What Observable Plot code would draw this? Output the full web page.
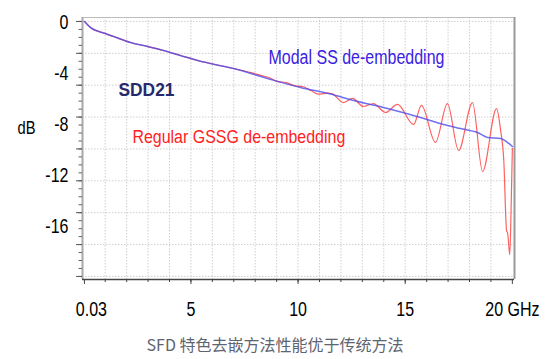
<!DOCTYPE html>
<html><head><meta charset="utf-8">
<script src="https://cdn.jsdelivr.net/npm/d3@7"></script>
<script src="https://cdn.jsdelivr.net/npm/@observablehq/plot@0.6"></script>
<style>
body{margin:0;background:#fff;width:550px;height:359px;overflow:hidden}
#cap{font-family:"Noto Sans CJK SC","Noto Sans",sans-serif;font-size:16px;color:#5e6470;text-align:center;line-height:22px;height:26px}
svg{display:block}
</style></head><body><div id="chart"></div><div id="cap"></div>
<script>
// Modal SS de-embedding (blue)
const blueFreq = [0.03,0.31,1.01,1.39,2.18,2.97,3.72,4.51,5.31,5.91,6.99,8.57,10.11,11.51,12.59,14.17,15.71,16.79,17.58,18.37,18.84,19.45,19.82,20.0];
const blueDb   = [0,-0.47,-0.95,-1.18,-1.65,-1.96,-2.28,-2.67,-3.06,-3.30,-3.69,-4.47,-5.18,-5.69,-6.20,-6.83,-7.53,-8.08,-8.40,-8.71,-9.10,-9.18,-9.55,-9.81];
// Regular GSSG de-embedding (red)
const redFreq = [0.03,0.31,1.01,1.39,2.18,2.97,3.72,4.51,5.31,5.91,6.99,7.8,8.3,8.65,9.0,9.45,9.85,10.2,10.6,10.95,11.4,11.6,12.12,12.54,13.05,13.52,14.08,14.64,15.39,15.76,16.41,16.97,17.49,18.14,18.61,19.26,19.45,19.6,19.73,19.78,19.88,19.95,20.0];
const redDb   = [0,-0.47,-0.95,-1.18,-1.65,-1.96,-2.28,-2.67,-3.06,-3.30,-3.69,-4.02,-4.25,-4.40,-4.70,-4.80,-5.05,-5.10,-5.42,-5.70,-5.62,-5.68,-6.36,-6.04,-6.67,-6.44,-7.14,-6.51,-8.08,-6.59,-9.49,-6.44,-10.12,-6.36,-11.77,-6.83,-8.5,-10.9,-16.4,-16.6,-18.3,-14.0,-9.96];

const yTickLabels = [0,-4,-8,-12,-16];
const yGridTicks = [0,-2.5,-5,-7.5,-10,-12.5,-15,-17.5,-20];
const xTickLabels = [0.03,5,10,15,20];
const xGridTicks = [1,2,3,4,5,6,7,8,9,10,11,12,13,14,15,16,17,18,19];
const labelModal = "Modal SS de-embedding";
const labelRegular = "Regular GSSG de-embedding";
const labelSdd = "SDD21";
const yUnit = "dB";
const caption = "SFD 特色去嵌方法性能优于传统方法";

const blue = blueFreq.map((f,i)=>({f, db: blueDb[i]}));
const red = redFreq.map((f,i)=>({f, db: redDb[i]}));
const yMinor = d3.range(0, -20.01, -0.625);

const xMin = -0.06, xMax = 20.1, yMin = -20.24, yMax = 0.31;

const svg = Plot.plot({
  width: 550, height: 333,
  marginLeft: 82, marginRight: 36, marginTop: 17, marginBottom: 54,
  style: {fontFamily: "Liberation Sans, Arial, sans-serif", fontSize: "20px", background: "white", overflow: "visible", color: "#000"},
  x: {domain: [xMin, xMax], label: null},
  y: {domain: [yMin, yMax], label: null},
  marks: [
    Plot.gridX(xGridTicks, {stroke: "#cfcfcf", strokeOpacity: 1, strokeDasharray: "1.5,1.5"}),
    Plot.gridY(yGridTicks, {stroke: "#cfcfcf", strokeOpacity: 1, strokeDasharray: "1.5,1.5"}),
    Plot.ruleY([yMax], {stroke: "#bdbdbd", strokeWidth: 1}),
    Plot.ruleX([xMax], {stroke: "#9a9a9a", strokeWidth: 2}),
    Plot.ruleX([xMin], {stroke: "#a8a8a8", strokeWidth: 2}),
    Plot.ruleY([yMin], {stroke: "#444", strokeWidth: 1.5}),
    // y axis ticks
    Plot.axisY(yMinor, {anchor: "left", tickSize: 3.5, tickFormat: () => "", stroke: "#666", label: null}),
    Plot.axisY(yGridTicks, {anchor: "left", tickSize: 6, tickFormat: () => "", stroke: "#555", label: null}),
    Plot.axisY(yTickLabels, {anchor: "left", tickSize: 0, tickPadding: 14, dy: 1, fontSize: 20, label: null, tickFormat: d => String(d)}),
    // x axis ticks
    Plot.axisX(xGridTicks, {anchor: "bottom", tickSize: 3, tickFormat: () => "", stroke: "#444", label: null}),
    Plot.axisX(xTickLabels, {anchor: "bottom", tickSize: 5, tickFormat: () => "", stroke: "#444", label: null}),
    Plot.axisX(xTickLabels.slice(0,1), {anchor: "bottom", tickSize: 0, tickPadding: 22, dx: 7, fontSize: 20, label: null, tickFormat: d => String(d)}),
    Plot.axisX(xTickLabels.slice(1), {anchor: "bottom", tickSize: 0, tickPadding: 22, fontSize: 20, label: null, tickFormat: d => d === 20 ? "20 GHz" : String(d)}),
    // curves
    Plot.line(red, {x: "f", y: "db", stroke: "#ff4545", strokeOpacity: 0.85, strokeWidth: 1.2, curve: "monotone-x"}),
    Plot.line(blue, {x: "f", y: "db", stroke: "#4a48ea", strokeOpacity: 0.78, strokeWidth: 1.5, curve: "monotone-x"}),
    // annotations
    Plot.text([labelModal], {text: d => d, x: 8.62, y: -2.8, textAnchor: "start", fill: "#3a22e2", fontSize: 21}),
    Plot.text([labelSdd], {text: d => d, x: 1.62, y: -5.42, textAnchor: "start", fill: "#262a6c", fontSize: 18.5, fontWeight: "bold"}),
    Plot.text([labelRegular], {text: d => d, x: 2.27, y: -9.06, textAnchor: "start", fill: "#ff2222", fontSize: 18.5}),
    Plot.text([yUnit], {text: d => d, frameAnchor: "left", y: -8.4, dx: -56, textAnchor: "middle", fill: "#000", fontSize: 18})
  ]
});
document.getElementById("chart").appendChild(svg);
document.getElementById("cap").textContent = caption;

// condense text horizontally like the reference (scale about the anchor point, keeping Plot's own transform)
const targets = new Map([[labelModal, 176], [labelRegular, 213], [labelSdd, 56], [yUnit, 18]]);
svg.querySelectorAll("text").forEach(t => {
  const s = t.textContent;
  if (!s || !s.trim()) return;
  const w = t.getComputedTextLength();
  if (!w) return;
  const k = targets.has(s) ? targets.get(s) / w : 0.8;
  const bb = t.getBBox();
  const anchor = getComputedStyle(t).textAnchor;
  const px = anchor === "end" ? bb.x + bb.width : anchor === "middle" ? bb.x + bb.width / 2 : bb.x;
  const prev = t.getAttribute("transform") || "";
  t.setAttribute("transform", (prev + " translate(" + px + ",0) scale(" + k + ",1) translate(" + (-px) + ",0)").trim());
});
</script>
</body></html>
